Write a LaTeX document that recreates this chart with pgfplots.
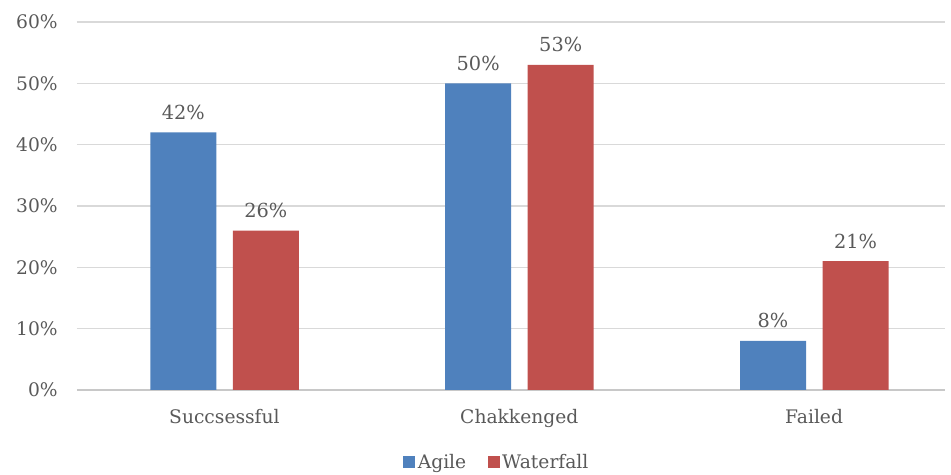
\documentclass[border=0pt]{standalone}
\usepackage{pgfplots}
\pgfplotsset{compat=1.18}
\usepackage{fontspec}
\setmainfont{DejaVu Serif}
\definecolor{agile}{HTML}{4F81BD}
\definecolor{water}{HTML}{C0504D}
\definecolor{txt}{HTML}{595959}
\definecolor{gridc}{HTML}{D9D9D9}
\definecolor{axisc}{HTML}{C8C8C8}
\pgfplotsset{/pgfplots/ybar legend/.style={/pgfplots/legend image code/.code={\fill[##1] (0pt,-4.5pt) rectangle (9pt,4.5pt);}}}
\begin{document}
\begin{tikzpicture}
\begin{axis}[
  at={(0,0)}, anchor=south west,
  scale only axis, width=651pt, height=276pt,
  ybar, bar width=49.5pt,
  xmin=-0.5, xmax=2.444, ymin=0, ymax=60,
  xtick={0,1,2}, xticklabels={Succsessful,Chakkenged,Failed},
  ytick={0,10,...,60},
  yticklabel={\pgfmathprintnumber{\tick}\%},
  /pgf/number format/assume math mode=true,
  ymajorgrids, xmajorgrids=false, grid style={draw=gridc, line width=1.1pt},
  axis x line*=bottom, axis y line*=left,
  y axis line style={draw=none},
  x axis line style={draw=axisc, line width=1.1pt, -},
  major tick length=0pt,
  tick style={draw=none},
  ticklabel style={font=\fontsize{14}{16}\selectfont, text=txt},
  yticklabel style={xshift=-11pt},
  xticklabel style={yshift=-11pt},
  nodes near coords={\pgfmathprintnumber{\pgfplotspointmeta}\%},
  nodes near coords style={font=\fontsize{14.5}{16}\selectfont, text=txt, yshift=6pt},
  legend style={at={(0.484,-0.196)}, anchor=center, draw=none, legend columns=2,
    font=\fontsize{14}{16}\selectfont, text=txt,
    /tikz/every even column/.append style={column sep=14pt}},
  legend cell align=left,
  clip=false,
]
\addplot[fill=agile, draw=none, bar shift=-30.8pt] coordinates {(0,42) (1,50) (2,8)};
\addplot[fill=water, draw=none, bar shift=31.1pt] coordinates {(0,26) (1,53) (2,21)};
\legend{Agile,Waterfall}
\end{axis}
\pgfresetboundingbox
\path (-57.75pt,-63.75pt) rectangle (655.5pt,292.5pt);
\end{tikzpicture}
\end{document}
